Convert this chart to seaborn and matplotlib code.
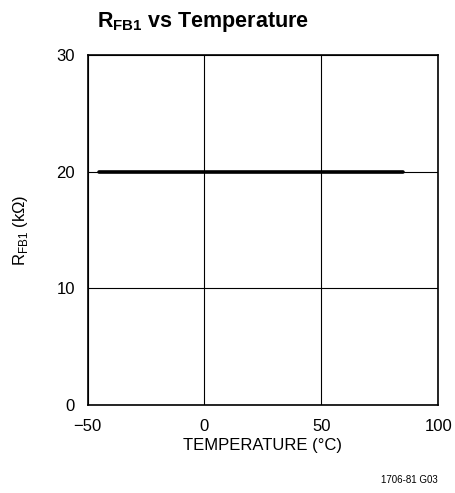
import matplotlib
matplotlib.use("Agg")
import matplotlib.pyplot as plt
import seaborn as sns
import pandas as pd

temperature = [-45, 85]
rfb1 = [20, 20]
x_ticks = [-50, 0, 50, 100]
x_tick_labels = ["\u221250", "0", "50", "100"]
y_ticks = [0, 10, 20, 30]

sns.set_style("white")
plt.rcParams['font.family'] = ['Liberation Sans', 'DejaVu Sans']
plt.rcParams['text.color'] = 'black'
plt.rcParams['axes.labelcolor'] = 'black'
plt.rcParams['mathtext.fontset'] = 'custom'
plt.rcParams['mathtext.rm'] = 'Liberation Sans'
plt.rcParams['mathtext.bf'] = 'Liberation Sans:bold'

fig = plt.figure(figsize=(4.56, 4.93), dpi=100)
ax = fig.add_axes([0.192, 0.1785, 0.769, 0.710])

df = pd.DataFrame({"T": temperature, "R": rfb1})
sns.lineplot(data=df, x="T", y="R", ax=ax, color="black", linewidth=2.6)

ax.set_xlim(-50, 100)
ax.set_ylim(0, 30)
ax.set_xticks(x_ticks)
ax.set_xticklabels(x_tick_labels)
ax.set_yticks(y_ticks)
ax.grid(True, color="black", linewidth=0.8)
for s in ax.spines.values():
    s.set_color("black")
    s.set_linewidth(1.2)
ax.tick_params(axis="x", labelsize=12, length=0, pad=10, colors="black")
ax.tick_params(axis="y", labelsize=12, length=0, pad=9, colors="black")

ax.set_xlabel("TEMPERATURE (\u00b0C)", fontsize=12, labelpad=3)
ax.set_ylabel("R$_{\\mathrm{FB1}}$ (k\u03a9)", fontsize=12, labelpad=19)

fig.text(97/456, 1 - 22/493, "R$_{\\mathbf{FB1}}$ vs Temperature", fontsize=15.5,
         fontweight="bold", ha="left", va="center", color="black")
fig.text(438/456, 1 - 480/493, "1706-81 G03", fontsize=7, ha="right", va="center")

fig.savefig("out.png", dpi=100)
